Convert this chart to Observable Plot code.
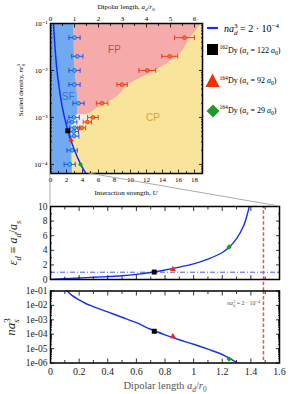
<!DOCTYPE html>
<html><head><meta charset="utf-8">
<script src="https://cdn.jsdelivr.net/npm/d3@7"></script>
<script src="https://cdn.jsdelivr.net/npm/@observablehq/plot@0.6"></script>
<style>
html,body{margin:0;padding:0;background:#fff;}
#wrap{position:relative;width:291px;height:394px;overflow:hidden;background:#fff;}
#wrap svg{position:absolute;overflow:visible;}
</style></head>
<body><div id="wrap"></div>
<script>
// ================= DATA =================
// Top panel: phase diagram (x: interaction strength U, y: scaled density n r0^3)
const curveDens = [0.1, 0.05, 0.02, 0.01, 0.005, 0.002, 0.001, 0.0005, 0.0002, 0.0001, 0.000064];
const curveU    = [0.38, 0.48, 0.65, 0.81, 1.03, 1.39, 1.75, 2.2, 3.0, 3.78, 4.42];

const sfDens  = [0.1, 0.05, 0.02, 0.01, 0.005, 0.0025, 0.0015, 0.0011, 0.001, 0.0007, 0.0004, 0.0002, 0.0001, 0.000064];
const sfEdgeU = [2.92, 2.95, 3.0, 3.1, 3.25, 3.4, 3.4, 3.35, 2.8, 2.7, 2.65, 2.65, 2.7, 2.75];

const fpDens   = [0.1, 0.05, 0.02, 0.01, 0.005, 0.0025, 0.002, 0.0015, 0.00125, 0.00112];
const fpLeftU  = [2.92, 2.95, 3.0, 3.1, 3.25, 3.4, 3.4, 3.4, 3.38, 3.35];
const fpRightU = [18.9, 17.5, 15.9, 13.2, 9.8, 8.0, 6.9, 5.7, 5.0, 4.4];

const gapDens   = [0.00112, 0.001, 0.0008, 0.00068, 0.00062];
const gapLeftU  = [3.35, 2.8, 2.7, 2.7, 2.8];
const gapRightU = [4.4, 4.9, 4.9, 4.4, 3.2];

const blueDens = [0.05, 0.02, 0.01, 0.005, 0.002, 0.001, 0.0008, 0.0006, 0.0005, 0.0004, 0.0002, 0.0001];
const blueU    = [3.0, 3.35, 3.0, 3.0, 3.5, 2.95, 2.7, 3.0, 2.9, 2.95, 2.7, 2.4];
const blueErr  = [0.7, 0.7, 0.7, 0.7, 0.7, 0.65, 0.6, 0.65, 0.6, 0.6, 0.65, 0.7];

const redDens = [0.05, 0.02, 0.01, 0.005, 0.002, 0.001, 0.0008, 0.0006];
const redU    = [16.75, 14.9, 12.1, 8.95, 6.45, 5.3, 4.6, 3.9];
const redErr  = [1.25, 1.0, 1.05, 0.65, 0.72, 0.67, 0.52, 0.5];

const regionNames = ["SF", "FP", "CP"];
const regionU     = [2.2, 8.0, 12.8];
const regionDens  = [0.0028, 0.027, 0.00099];

const topYTicks  = [1e-4, 1e-3, 1e-2, 1e-1];
const topYLabels = ["10⁻⁴", "10⁻³", "10⁻²", "10⁻¹"];
const topUTicks  = [0, 2, 4, 6, 8, 10, 12, 14, 16, 18];
const topAdTicks = [0, 1, 2, 3, 4, 5, 6];

// Species markers
const speciesLabels = ["162Dy (as = 122 a0)", "164Dy (as = 92 a0)", "164Dy (as = 29 a0)"];
const speciesU    = [2.16, 2.57, 3.75];
const speciesDens = [5.2e-4, 3.3e-4, 1.0e-4];
const speciesAd   = [0.725, 0.855, 1.248];
const speciesEps  = [1.02, 1.4, 4.45];
const speciesNas3 = [1.6e-4, 7.0e-5, 1.9e-6];

// Middle panel: eps_d vs a_d/r0
const epsAd  = [0, 0.1, 0.2, 0.3, 0.4, 0.5, 0.6, 0.7, 0.8, 0.9, 1.0, 1.1, 1.2, 1.25, 1.3, 1.35, 1.38, 1.40];
const epsVal = [0, 0.11, 0.21, 0.3, 0.4, 0.52, 0.7, 0.96, 1.3, 1.7, 2.15, 2.8, 3.7, 4.45, 5.6, 7.4, 9.3, 11];
const epsRef = [1];
const adLimit = [1.488];

// Bottom panel: n a_s^3 vs a_d/r0
const nasAd  = [0.105, 0.15, 0.2, 0.25, 0.3, 0.4, 0.5, 0.6, 0.7, 0.8, 0.9, 1.0, 1.1, 1.2, 1.25, 1.3, 1.32];
const nasVal = [0.13, 0.05, 0.024, 0.013, 0.0082, 0.0035, 0.0015, 0.00063, 0.00022, 0.000091, 0.000041, 0.00002, 0.0000091, 0.0000039, 0.0000021, 0.0000011, 0.0000008];
const botYTicks  = [1e-6, 1e-5, 1e-4, 1e-3, 1e-2, 1e-1];
const botYLabels = ["1e-06", "1e-05", "1e-04", "1e-03", "1e-02", "1e-01"];
const adTicks    = [0, 0.2, 0.4, 0.6, 0.8, 1.0, 1.2, 1.4, 1.6];
const adLabels   = ["0", "0.2", "0.4", "0.6", "0.8", "1", "1.2", "1.4", "1.6"];

// ================= STYLE =================
const SERIF = "'Liberation Serif','DejaVu Serif',serif";
const SANS  = "'Liberation Sans','DejaVu Sans',sans-serif";
const C = {
  blueReg: "#70aaf1", pink: "#f4abaa", yellow: "#f8e49b", patch: "#f3eeee",
  curve: "#1630ef", sf: "#3474d6", fp: "#e8402c", cp: "#d6a42c",
  errBlue: "#1f45e6", errBlueFill: "#3cc4f4", errRed: "#f02c10", errRedFill: "#f27d12",
  sq: "#000000", tri: "#ff2a00", dia: "#1e9a2a", red: "#ff4a4a"
};
const wrap = document.getElementById("wrap");

const vbar = {draw(ctx, size) { const h = Math.sqrt(size / Math.PI); ctx.moveTo(0, -h); ctx.lineTo(0, h); }};
function logMinor(lo, hi) {
  const out = [];
  for (let e = -8; e <= 0; e++) for (let m = 2; m < 10; m++) { const v = m * Math.pow(10, e); if (v >= lo * 0.999 && v <= hi * 1.001) out.push(v); }
  return out;
}
function rng(a, b, s) { const o = []; for (let v = a; v <= b + 1e-9; v += s) o.push(+v.toFixed(6)); return o; }
function tin(axis, anchor, values, size, sw = 0.8) {
  const f = axis === "x" ? Plot.axisX : Plot.axisY;
  return f(values, {anchor, tickSize: -size, tickFormat: () => "", label: null, stroke: "#000", strokeWidth: sw});
}
function errMarks(dens, us, errs, stroke, fill) {
  const lo = (d, i) => us[i] - errs[i], hi = (d, i) => us[i] + errs[i], yy = d => d;
  return [
    Plot.link(dens, {x1: lo, x2: hi, y1: yy, y2: yy, stroke, strokeWidth: 0.9}),
    Plot.dot(dens, {x: lo, y: yy, symbol: vbar, r: 2.4, stroke, fill: "none", strokeWidth: 0.9}),
    Plot.dot(dens, {x: hi, y: yy, symbol: vbar, r: 2.4, stroke, fill: "none", strokeWidth: 0.9}),
    Plot.dot(dens, {x: (d, i) => us[i], y: yy, r: 1.9, fill, stroke, strokeWidth: 0.8})
  ];
}
function speciesMarks(xs, ys, sizes) {
  return [
    Plot.dot([0], {x: () => xs[0], y: () => ys[0], symbol: "square", r: sizes[0], fill: C.sq}),
    Plot.dot([1], {x: () => xs[1], y: () => ys[1], symbol: "triangle", r: sizes[1], fill: C.tri}),
    Plot.dot([2], {x: () => xs[2], y: () => ys[2], symbol: "diamond2", r: sizes[2], fill: C.dia})
  ];
}

// ================= TOP PANEL =================
const topPlot = Plot.plot({
  width: 205, height: 200,
  marginLeft: 50, marginRight: 3, marginTop: 23, marginBottom: 27,
  style: {background: "transparent", fontFamily: SERIF, fontSize: "7px", color: "#000"},
  x: {domain: [0, 19], axis: null},
  y: {type: "log", domain: [6.4e-5, 0.1], axis: null},
  marks: [
    Plot.frame({fill: C.yellow, stroke: null}),
    Plot.areaX(sfDens, {y: d => d, x1: () => 0, x2: (d, i) => sfEdgeU[i], fill: C.blueReg, curve: "monotone-y"}),
    Plot.areaX(fpDens, {y: d => d, x1: (d, i) => fpLeftU[i], x2: (d, i) => fpRightU[i], fill: C.pink, curve: "monotone-y", clip: true}),
    Plot.areaX(gapDens, {y: d => d, x1: (d, i) => gapLeftU[i], x2: (d, i) => gapRightU[i], fill: C.patch, curve: "catmull-rom"}),
    Plot.text([regionNames[0]], {x: () => regionU[0], y: () => regionDens[0], text: d => d, fill: C.sf, fontFamily: SANS, fontSize: 10}),
    Plot.text([regionNames[1]], {x: () => regionU[1], y: () => regionDens[1], text: d => d, fill: C.fp, fontFamily: SANS, fontSize: 10}),
    Plot.text([regionNames[2]], {x: () => regionU[2], y: () => regionDens[2], text: d => d, fill: C.cp, fontFamily: SANS, fontSize: 10}),
    ...errMarks(blueDens, blueU, blueErr, C.errBlue, C.errBlueFill),
    ...errMarks(redDens, redU, redErr, C.errRed, C.errRedFill),
    Plot.line(curveDens, {x: (d, i) => curveU[i], y: d => d, stroke: C.curve, strokeWidth: 1.5, curve: "catmull-rom", clip: true}),
    ...speciesMarks(speciesU, speciesDens, [2.8, 2.0, 2.2]),
    // axes
    Plot.axisY(topYTicks, {anchor: "left", tickSize: 0, tickPadding: 3, tickFormat: d => topYLabels[topYTicks.indexOf(d)], label: null, fontSize: 7}),
    tin("y", "left", topYTicks, 4), tin("y", "left", logMinor(6.4e-5, 0.1), 2),
    tin("y", "right", topYTicks, 4), tin("y", "right", logMinor(6.4e-5, 0.1), 2),
    Plot.axisX(topUTicks, {anchor: "bottom", tickSize: 0, tickPadding: 4, label: null, fontSize: 7}),
    tin("x", "bottom", topUTicks, 3.5), tin("x", "bottom", rng(1, 19, 2), 2),
    Plot.axisX(topAdTicks.map(v => v * 3), {anchor: "top", tickSize: 0, tickPadding: 3, label: null, fontSize: 7, tickFormat: d => String(Math.round(d / 3))}),
    tin("x", "top", topAdTicks.map(v => v * 3), 3.5), tin("x", "top", rng(1.5, 19, 3), 2),
    Plot.frame({stroke: "#000", strokeWidth: 1.5})
  ]
});
topPlot.style.left = "0px"; topPlot.style.top = "0px";
wrap.appendChild(topPlot);

// ================= MIDDLE PANEL =================
const midPlot = Plot.plot({
  width: 291, height: 85,
  marginLeft: 50, marginRight: 12, marginTop: 6, marginBottom: 6,
  style: {background: "transparent", fontFamily: SERIF, fontSize: "9.5px", color: "#222"},
  x: {domain: [0, 1.6], axis: null},
  y: {domain: [0, 10], axis: null},
  marks: [
    Plot.ruleY(epsRef, {stroke: C.curve, strokeWidth: 0.8, strokeDasharray: "5,2,1,2"}),
    Plot.ruleX(adLimit, {y1: -1.6, y2: 10, stroke: C.red, strokeWidth: 1.5, strokeDasharray: "3.5,2"}),
    Plot.line(epsAd, {x: d => d, y: (d, i) => epsVal[i], stroke: C.curve, strokeWidth: 1.4, curve: "catmull-rom", clip: true}),
    ...speciesMarks(speciesAd, speciesEps, [2.8, 2.3, 2.4]),
    Plot.axisY(rng(0, 10, 2), {anchor: "left", tickSize: 0, tickPadding: 3, label: null, fontSize: 9.5}),
    tin("y", "left", rng(0, 10, 2), 4), tin("y", "left", rng(1, 9, 2), 2),
    tin("y", "right", rng(0, 10, 2), 4), tin("y", "right", rng(1, 9, 2), 2),
    tin("x", "bottom", adTicks, 4), tin("x", "bottom", rng(0.1, 1.5, 0.2), 2.5),
    tin("x", "top", adTicks, 4), tin("x", "top", rng(0.1, 1.5, 0.2), 2.5),
    Plot.frame({stroke: "#000", strokeWidth: 1.5})
  ]
});
midPlot.style.left = "0px"; midPlot.style.top = "200px";
wrap.appendChild(midPlot);

// ================= BOTTOM PANEL =================
const botPlot = Plot.plot({
  width: 291, height: 109,
  marginLeft: 50, marginRight: 12, marginTop: 5.5, marginBottom: 31.5,
  style: {background: "transparent", fontFamily: SERIF, fontSize: "9.5px", color: "#222"},
  x: {domain: [0, 1.6], axis: null},
  y: {type: "log", domain: [1e-6, 1e-1], axis: null},
  marks: [
    Plot.ruleX(adLimit, {stroke: C.red, strokeWidth: 1.5, strokeDasharray: "3.5,2"}),
    Plot.line(nasAd, {x: d => d, y: (d, i) => nasVal[i], stroke: C.curve, strokeWidth: 1.4, curve: "catmull-rom", clip: true}),
    ...speciesMarks(speciesAd, speciesNas3, [2.8, 2.3, 2.4]),
    Plot.axisY(botYTicks, {anchor: "left", tickSize: 0, tickPadding: 3, label: null, fontSize: 9.5, tickFormat: d => botYLabels[botYTicks.indexOf(d)]}),
    tin("y", "left", botYTicks, 4), tin("y", "left", logMinor(1e-6, 1e-1), 2),
    tin("y", "right", botYTicks, 4), tin("y", "right", logMinor(1e-6, 1e-1), 2),
    Plot.axisX(adTicks, {anchor: "bottom", tickSize: 0, tickPadding: 5, label: null, fontSize: 10, tickFormat: d => adLabels[Math.round(d * 5)]}),
    tin("x", "bottom", adTicks, 4), tin("x", "bottom", rng(0.1, 1.5, 0.2), 2.5),
    tin("x", "top", adTicks, 4), tin("x", "top", rng(0.1, 1.5, 0.2), 2.5),
    Plot.frame({stroke: "#000", strokeWidth: 1.5})
  ]
});
botPlot.style.left = "0px"; botPlot.style.top = "285px";
wrap.appendChild(botPlot);

// ================= OVERLAY (connectors, labels, legend) =================
const ov = d3.select(wrap).append("svg").attr("width", 291).attr("height", 394)
  .style("left", "0px").style("top", "0px").style("pointer-events", "none");

const tx = topPlot.scale("x"), ty = topPlot.scale("y"), mx = midPlot.scale("x"), my = midPlot.scale("y");
const topBottom = ty.range[0];
const midTop = 200 + my.range[1];
ov.append("line").attr("x1", tx.apply(0)).attr("y1", topBottom).attr("x2", 0 + mx.apply(0)).attr("y2", midTop)
  .attr("stroke", "#a0a0a0").attr("stroke-width", 0.9);
ov.append("line").attr("x1", tx.apply(adTicks[adTicks.length - 1] * 3)).attr("y1", topBottom).attr("x2", mx.apply(1.6)).attr("y2", midTop)
  .attr("stroke", "#a0a0a0").attr("stroke-width", 0.9);

function rt(x, y, segs, {fs = 10, anchor = "start", fill = "#000", rotate = 0, family = SERIF} = {}) {
  const t = ov.append("text").attr("text-anchor", anchor).attr("font-family", family).attr("font-size", fs)
    .attr("fill", fill).style("white-space", "pre")
    .attr("transform", `translate(${x},${y})` + (rotate ? ` rotate(${rotate})` : ""));
  let prev = 0;
  for (const s of segs) {
    const [str, kind = "", dx = 0] = Array.isArray(s) ? s : [s];
    const isSub = kind.endsWith("sub"), isSup = kind.endsWith("sup");
    const off = isSub ? 0.3 * fs : isSup ? -0.4 * fs : 0;
    const ts = t.append("tspan").attr("dy", (off - prev).toFixed(2)).attr("font-size", (isSub || isSup) ? 0.7 * fs : fs).text(str);
    if (kind.startsWith("i")) ts.attr("font-style", "italic");
    if (dx) ts.attr("dx", dx);
    prev = off;
  }
  return t;
}

// axis titles
rt(126, 8.5, ["Dipolar length, ", ["a", "i"], ["d", "isub"], ["/"], ["r", "i"], ["0", "sub"]], {fs: 7, anchor: "middle"});
rt(126, 194.5, ["Interaction strength, ", ["U", "i"]], {fs: 7, anchor: "middle"});
rt(23, 90, ["Scaled density, ", ["nr", "i"], ["0", "sub"], ["3", "sup", -2.5]], {fs: 7, anchor: "middle", rotate: -90});
rt(17, 243, [["ε", "i"], ["d", "isub"], [" ≡ "], ["a", "i"], ["d", "isub"], ["/"], ["a", "i"], ["s", "isub"]], {fs: 12, anchor: "middle", rotate: -90, fill: "#222"});
rt(15, 327, [["na", "i"], ["s", "isub"], ["3", "sup", -3.4]], {fs: 13, anchor: "middle", rotate: -90, fill: "#222"});
rt(165, 389, ["Dipolar length ", ["a", "i"], ["d", "isub"], ["/"], ["r", "i"], ["0", "sub"]], {fs: 10.5, anchor: "middle", fill: "#555"});
rt(260, 305, [["na", "i"], ["d", "isub"], ["3", "sup", -2], [" = 2 · 10"], ["−4", "sup"]], {fs: 6, anchor: "end", fill: "#555"});

// legend
ov.append("line").attr("x1", 207).attr("x2", 218).attr("y1", 28).attr("y2", 28).attr("stroke", C.curve).attr("stroke-width", 2.2);
rt(224, 31.5, [["na", "i"], ["d", "isub"], ["3", "sup", -3.5], [" = 2 · 10"], ["−4", "sup"]], {fs: 10});
ov.append("rect").attr("x", 207).attr("y", 44).attr("width", 11).attr("height", 11).attr("fill", C.sq);
rt(219.5, 52.5, [["162", "sup"], ["Dy ("], ["a", "i"], ["s", "isub"], [" = 122 "], ["a", "i"], ["0", "sub"], [")"]], {fs: 8});
ov.append("path").attr("d", "M212.5,73.5L219.5,87L205.5,87Z").attr("fill", C.tri);
rt(219.5, 83, [["164", "sup"], ["Dy ("], ["a", "i"], ["s", "isub"], [" = 92 "], ["a", "i"], ["0", "sub"], [")"]], {fs: 8});
ov.append("path").attr("d", "M213,104.5L219.5,111L213,117.5L206.5,111Z").attr("fill", C.dia);
rt(219.5, 112.5, [["164", "sup"], ["Dy ("], ["a", "i"], ["s", "isub"], [" = 29 "], ["a", "i"], ["0", "sub"], [")"]], {fs: 8});
</script>
</body></html>
